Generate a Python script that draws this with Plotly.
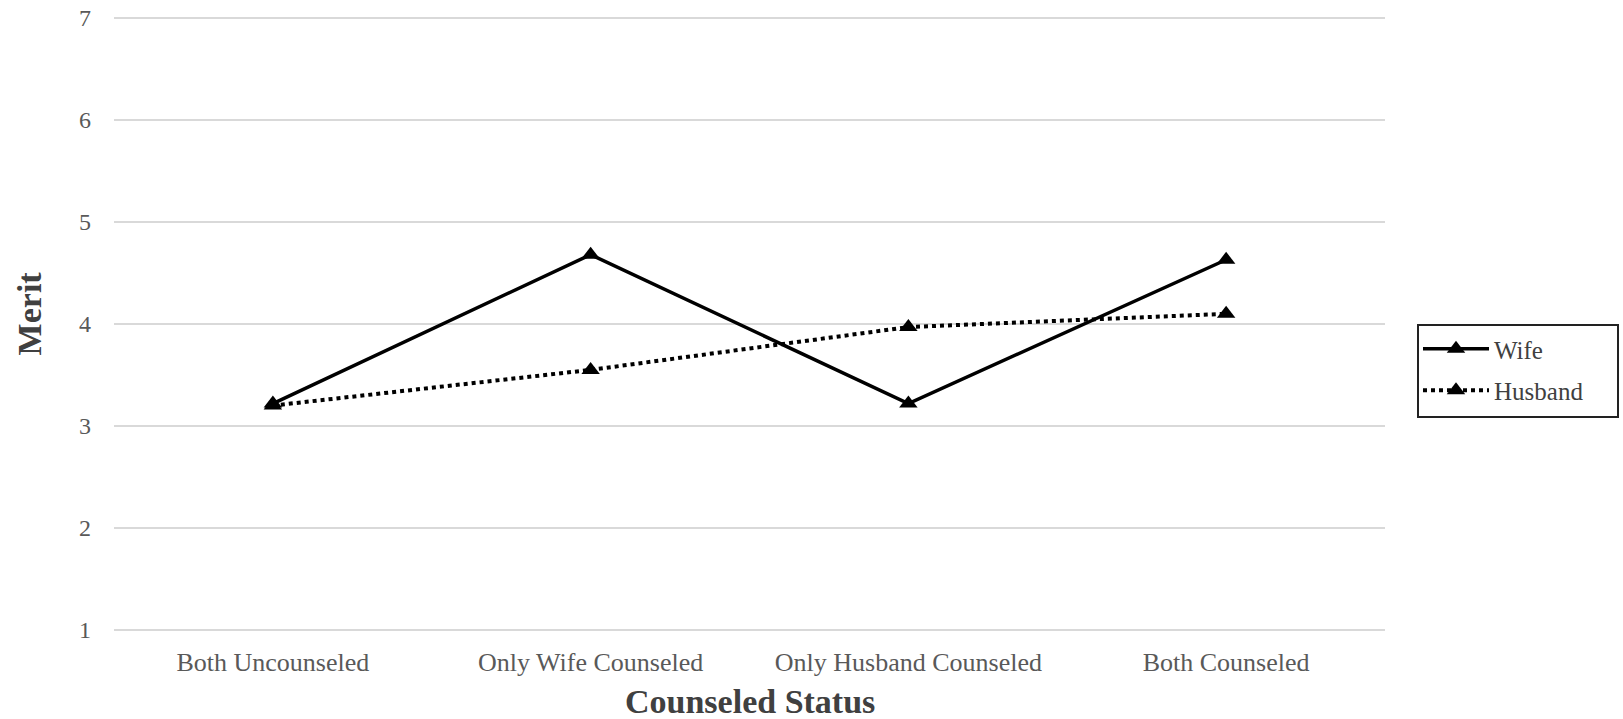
import plotly.graph_objects as go

categories = ["Both Uncounseled", "Only Wife Counseled", "Only Husband Counseled", "Both Counseled"]
wife = [3.22, 4.68, 3.22, 4.63]
husband = [3.20, 3.55, 3.97, 4.10]
y_ticks = [1, 2, 3, 4, 5, 6, 7]

FONT = "Liberation Serif, Times New Roman, serif"

fig = go.Figure()
fig.add_trace(go.Scatter(
    x=categories, y=wife, name="Wife", mode="lines+markers", legendgroup="w",
    line=dict(color="black", width=3.5),
    marker=dict(symbol="triangle-up", size=16, color="black"),
))
fig.add_trace(go.Scatter(
    x=categories, y=husband, name="Husband", mode="lines+markers", legendgroup="h",
    line=dict(color="black", width=4, dash="dot"),
    marker=dict(symbol="triangle-up", size=16, color="black"),
))

W, H = 1623, 719
ML, MR, MT, MB = 114, 238, 16, 87
PW, PH = W - ML - MR, H - MT - MB

def px_x(x):
    return (x - ML) / PW

def px_y(y):
    return (H - MB - y) / PH

fig.update_layout(
    width=W, height=H,
    paper_bgcolor="white", plot_bgcolor="white",
    margin=dict(l=ML, r=MR, t=MT, b=MB, autoexpand=False),
    font=dict(family=FONT, color="#595959", size=26),
    showlegend=True,
    legend=dict(
        xref="container", yref="container",
        x=1418/W, y=1 - 326/H, xanchor="left", yanchor="top",
        borderwidth=0,
        font=dict(family=FONT, size=25, color="#404040"),
        bgcolor="rgba(0,0,0,0)",
        itemwidth=66,
        tracegroupgap=6,
    ),
    xaxis=dict(
        type="category", range=[-0.5, 3.5], automargin=False,
        showgrid=False, showline=False, zeroline=False,
        ticks="", ticklabelstandoff=12,
        tickfont=dict(family=FONT, size=26, color="#595959"),
    ),
    yaxis=dict(
        range=[0.98, 7.02], tickvals=y_ticks, automargin=False,
        showgrid=True, gridcolor="#d9d9d9", gridwidth=2,
        zeroline=False, showline=False, ticks="",
        ticklabelstandoff=22,
        tickfont=dict(family=FONT, size=24, color="#595959"),
    ),
    shapes=[
        dict(type="rect", xref="paper", yref="paper",
             x0=px_x(1418), x1=px_x(1618), y0=px_y(417), y1=px_y(325),
             line=dict(color="#222222", width=2), fillcolor="rgba(0,0,0,0)"),
    ],
    annotations=[
        dict(text="<b>Counseled Status</b>", xref="paper", yref="paper",
             x=0.5, y=-0.113, xanchor="center", yanchor="middle", showarrow=False,
             font=dict(family=FONT, size=34, color="#404040")),
        dict(text="<b>Merit</b>", xref="paper", yref="paper",
             x=-0.0665, y=0.518, xanchor="center", yanchor="middle", showarrow=False,
             textangle=-90,
             font=dict(family=FONT, size=34, color="#404040")),
    ],
)

fig.write_html("out.html", config={"displayModeBar": False})

with open("out.html", "r", encoding="utf-8") as f:
    html = f.read()
html = html.replace("<head>", "<head><style>html,body{margin:0;padding:0;overflow:hidden;}</style>", 1)
with open("out.html", "w", encoding="utf-8") as f:
    f.write(html)
